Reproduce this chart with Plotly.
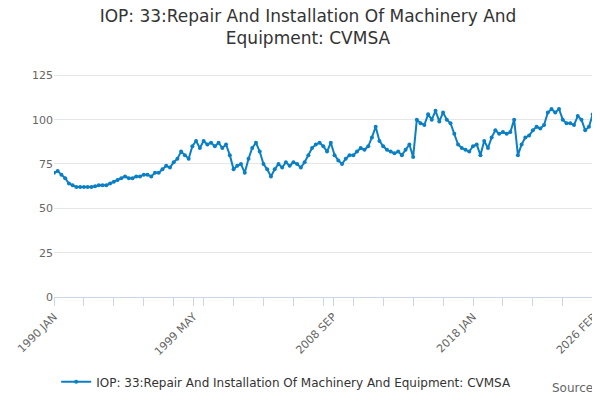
import plotly.graph_objects as go
import pandas as pd

years = list(range(1990, 2026))
quarterly = [
    70, 71, 69, 67,   64, 63, 62, 62,   62, 62, 62, 62.5, 63, 63, 63, 64,
    65, 66, 67, 68,   67, 67, 68, 68,   69, 69, 68, 70,   70, 72, 74, 73,
    76, 78, 82, 80,   78, 85, 88, 84,   88, 86, 87, 85,   87, 84, 86, 80,
    72, 74, 75, 70,   78, 84, 87, 82,   75, 72, 68, 72,   75, 73, 76, 74,
    76, 75, 73, 76,   80, 84, 86, 87,   85, 82, 87, 80,   77, 75, 78, 80,
    80, 82, 84, 83,   85, 90, 96, 88,   85, 83, 82, 81,   82, 80, 83, 86,
    79, 100, 98, 97,  103, 100, 105, 99, 104, 100, 98, 92, 86, 84, 83, 82,
    85, 86, 80, 88,   84, 90, 94, 92,   93, 92, 93, 100,  80, 86, 90, 91,
    94, 96, 95, 97,   104, 106, 104, 106, 100, 98, 98, 97, 102, 100, 94, 96,
]
dates = [f"{y}-{m:02d}-01" for y in years for m in (1, 4, 7, 10)]
dates += ["2026-01-01", "2026-02-01"]
values = quarterly + [103, 110]

tick_vals = ["1990-01-01", "1999-05-01", "2008-09-01", "2018-01-01", "2026-02-01"]
tick_text = ["1990 JAN", "1999 MAY", "2008 SEP", "2018 JAN", "2026 FEB"]

name = "IOP: 33:Repair And Installation Of Machinery And Equipment: CVMSA"

fig = go.Figure(go.Scatter(
    x=pd.to_datetime(dates), y=values, mode="lines+markers", name=name,
    line=dict(color="#0a7fc4", width=2), marker=dict(size=4, color="#0a7fc4"),
))
fig.update_layout(
    width=600, height=400,
    font=dict(family="DejaVu Sans", color="#333"),
    title=dict(text="IOP: 33:Repair And Installation Of Machinery And<br>Equipment: CVMSA",
               x=0.5, y=0.965, font=dict(size=17)),
    paper_bgcolor="white", plot_bgcolor="white",
    margin=dict(l=46, r=14, t=62, b=107),
    showlegend=True,
    legend=dict(orientation="h", x=0.43, xanchor="center", y=-0.31, font=dict(size=12)),
    xaxis=dict(tickvals=pd.to_datetime(tick_vals), ticktext=tick_text, tickangle=-45,
               showgrid=False, showline=True, linecolor="#ccd6eb", ticks="outside",
               tickcolor="#ccd6eb", ticklen=8, tickfont=dict(size=11, color="#666"),
               minor=dict(ticks="outside", dtick="M24", ticklen=8, tickcolor="#ccd6eb"),
               range=["1990-01-01", "2026-02-01"], automargin=False),
    yaxis=dict(range=[0, 128], tickvals=[0, 25, 50, 75, 100, 125], gridcolor="#e6e6e6",
               tickfont=dict(size=11, color="#666"), zeroline=False),
    annotations=[dict(text="Source:", xref="paper", yref="paper", x=1.01, y=-0.44,
                      xanchor="right", showarrow=False, font=dict(size=12, color="#666"))],
)
fig.write_html("out.html")
